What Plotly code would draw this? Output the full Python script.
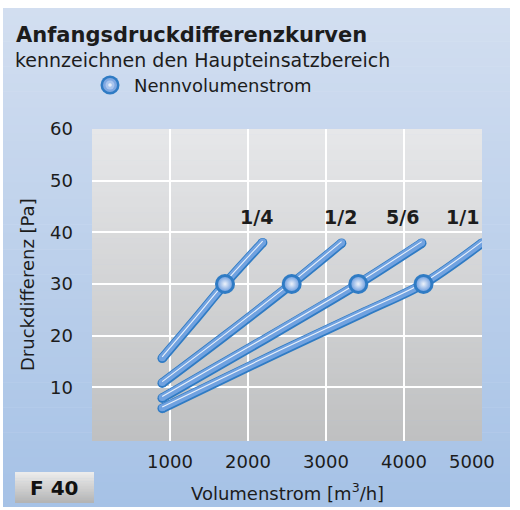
import plotly.graph_objects as go

# ---------------- data ----------------
curve_names = ["1/4", "1/2", "5/6", "1/1"]
flow_14 = [900, 1300, 1705, 2188]
dp_14 = [15.6, 22.7, 30.0, 38.0]
flow_12 = [900, 1700, 2560, 3200]
dp_12 = [10.8, 19.9, 30.0, 37.9]
flow_56 = [900, 2100, 3414, 4227]
dp_56 = [7.9, 18.3, 30.0, 37.9]
flow_11 = [900, 2400, 3500, 4250, 5000]
dp_11 = [5.9, 16.8, 24.6, 30.0, 37.9]
nominal_flow = [1705, 2560, 3414, 4250]
nominal_dp = [30, 30, 30, 30]
label_flow = [2115, 3180, 3987, 4744]
label_dp = [43, 43, 43, 43]
x_ticks = [1000, 2000, 3000, 4000]
y_ticks = [10, 20, 30, 40, 50, 60]

curves = [(flow_14, dp_14), (flow_12, dp_12), (flow_56, dp_56), (flow_11, dp_11)]

# ---------------- layout geometry ----------------
W, H = 520, 510
L, R, T, B = 92, 38, 129, 69
PW, PH = W - L - R, H - T - B

def px(x):
    return (x - L) / PW

def py(y):
    return (H - B - y) / PH

FONT = "DejaVu Sans"
TXT = "#1c1c1c"
DARK = "#2f7bc4"
MID = "#71a2e0"

def mix(c1, c2, t):
    a = [int(c1[i:i + 2], 16) for i in (1, 3, 5)]
    b = [int(c2[i:i + 2], 16) for i in (1, 3, 5)]
    return "rgb(%d,%d,%d)" % tuple(round(a[k] + (b[k] - a[k]) * t) for k in range(3))

shapes = []
# blue panel gradient
x0b, x1b, y0b, y1b = 3, 510, 8, 507
n = 60
for i in range(n):
    ya = y0b + (y1b - y0b) * i / n
    yb = y0b + (y1b - y0b) * (i + 1) / n + 0.6
    shapes.append(dict(type="rect", xref="paper", yref="paper", layer="below",
                       x0=px(x0b), x1=px(x1b), y0=py(ya), y1=py(min(yb, y1b)),
                       fillcolor=mix("#d2def0", "#a6c2e6", i / (n - 1)), line_width=0))
# gray plot gradient
for i in range(n):
    ya = T + PH * i / n
    yb = T + PH * (i + 1) / n + 0.6
    shapes.append(dict(type="rect", xref="paper", yref="paper", layer="below",
                       x0=0, x1=1, y0=py(ya), y1=py(min(yb, H - B)),
                       fillcolor=mix("#e6e7e9", "#bfc0c1", i / (n - 1)), line_width=0))
# F 40 box gradient
bx0, bx1, by0, by1 = 15, 94, 472, 503
m = 20
for i in range(m):
    ya = by0 + (by1 - by0) * i / m
    yb = by0 + (by1 - by0) * (i + 1) / m + 0.5
    shapes.append(dict(type="rect", xref="paper", yref="paper", layer="below",
                       x0=px(bx0), x1=px(bx1), y0=py(ya), y1=py(min(yb, by1)),
                       fillcolor=mix("#ececec", "#b4b4b4", i / (m - 1)), line_width=0))

# legend marker (nested circles)
def circ(cx, cy, r, color):
    return dict(type="circle", xref="paper", yref="paper", layer="above",
                x0=px(cx - r), x1=px(cx + r), y0=py(cy + r), y1=py(cy - r),
                fillcolor=color, line_width=0)

lcx, lcy = 110, 85
shapes += [circ(lcx, lcy, 9.5, DARK), circ(lcx, lcy, 7, "#7fa8e2"),
           circ(lcx, lcy, 4.5, "#a9c5ee"), circ(lcx, lcy, 1.8, "#e8f0fb")]

fig = go.Figure()
SM = 0.9
for xs, ys in curves:
    fig.add_trace(go.Scatter(x=xs, y=ys, mode="lines",
                             line=dict(color=DARK, width=9.5, shape="spline", smoothing=SM),
                             hoverinfo="skip", showlegend=False))
    fig.add_trace(go.Scatter(x=[xs[0], xs[-1]], y=[ys[0], ys[-1]], mode="markers",
                             marker=dict(color=DARK, size=9.5), hoverinfo="skip", showlegend=False))
for xs, ys in curves:
    fig.add_trace(go.Scatter(x=xs, y=[v + 0.12 for v in ys], mode="lines",
                             line=dict(color=MID, width=7, shape="spline", smoothing=SM),
                             hoverinfo="skip", showlegend=False))
    fig.add_trace(go.Scatter(x=[xs[0], xs[-1]], y=[ys[0] + 0.12, ys[-1] + 0.12], mode="markers",
                             marker=dict(color=MID, size=7), hoverinfo="skip", showlegend=False))
    fig.add_trace(go.Scatter(x=xs, y=[v + 0.3 for v in ys], mode="lines",
                             line=dict(color="rgba(255,255,255,0.85)", width=1.1,
                                       shape="spline", smoothing=SM),
                             hoverinfo="skip", showlegend=False))

fig.add_trace(go.Scatter(x=nominal_flow, y=nominal_dp, mode="markers",
                         marker=dict(color=DARK, size=20), hoverinfo="skip", showlegend=False))
fig.add_trace(go.Scatter(x=nominal_flow, y=nominal_dp, mode="markers",
                         marker=dict(color="#7aa5e1", size=14,
                                     gradient=dict(type="radial", color="#eef3fb")),
                         hoverinfo="skip", showlegend=False))

annotations = []
for name, lx, ly in zip(curve_names, label_flow, label_dp):
    annotations.append(dict(x=lx, y=ly, xref="x", yref="y", text="<b>%s</b>" % name,
                            showarrow=False, font=dict(family=FONT, size=19, color=TXT)))

annotations += [
    dict(x=px(14), y=py(35), xref="paper", yref="paper", xanchor="left", yanchor="middle",
         text="<b>Anfangsdruckdifferenzkurven</b>", showarrow=False,
         font=dict(family=FONT, size=21, color=TXT)),
    dict(x=px(13), y=py(60), xref="paper", yref="paper", xanchor="left", yanchor="middle",
         text="kennzeichnen den Haupteinsatzbereich", showarrow=False,
         font=dict(family=FONT, size=19, color=TXT)),
    dict(x=px(132), y=py(85), xref="paper", yref="paper", xanchor="left", yanchor="middle",
         text="Nennvolumenstrom", showarrow=False, font=dict(family=FONT, size=18, color=TXT)),
    dict(x=px(27), y=0.5, xref="paper", yref="paper", xanchor="center", yanchor="middle",
         text="Druckdifferenz [Pa]", textangle=-90, showarrow=False,
         font=dict(family=FONT, size=18, color=TXT)),
    dict(x=0.5, y=py(492), xref="paper", yref="paper", xanchor="center", yanchor="middle",
         text="Volumenstrom [m<sup>3</sup>/h]", showarrow=False,
         font=dict(family=FONT, size=18, color=TXT)),
    dict(x=5000, y=py(461), xref="x", yref="paper", xanchor="center", yanchor="middle", xshift=-10,
         text="5000", showarrow=False, font=dict(family=FONT, size=18, color=TXT)),
    dict(x=px(54), y=py(488), xref="paper", yref="paper", xanchor="center", yanchor="middle",
         text="<b>F 40</b>", showarrow=False, font=dict(family=FONT, size=20, color="#111111")),
]

fig.update_layout(
    width=W, height=H, margin=dict(l=L, r=R, t=T, b=B, pad=0),
    paper_bgcolor="white", plot_bgcolor="rgba(0,0,0,0)",
    shapes=shapes, annotations=annotations, showlegend=False,
    xaxis=dict(range=[0, 5000], tickvals=x_ticks, ticktext=[str(v) for v in x_ticks],
               showgrid=True, gridcolor="white", gridwidth=2, zeroline=False, showline=False,
               ticks="", ticklabelstandoff=8, tickfont=dict(family=FONT, size=18, color=TXT)),
    yaxis=dict(range=[-0.4, 60], tickvals=y_ticks, showgrid=True, gridcolor="white", gridwidth=2,
               zeroline=False, showline=False, ticks="", ticklabelstandoff=18,
               tickfont=dict(family=FONT, size=18, color=TXT)),
)

fig.write_html("out.html", config={"displayModeBar": False},
               post_script="document.body.style.margin='0';document.body.style.overflow='hidden';")
